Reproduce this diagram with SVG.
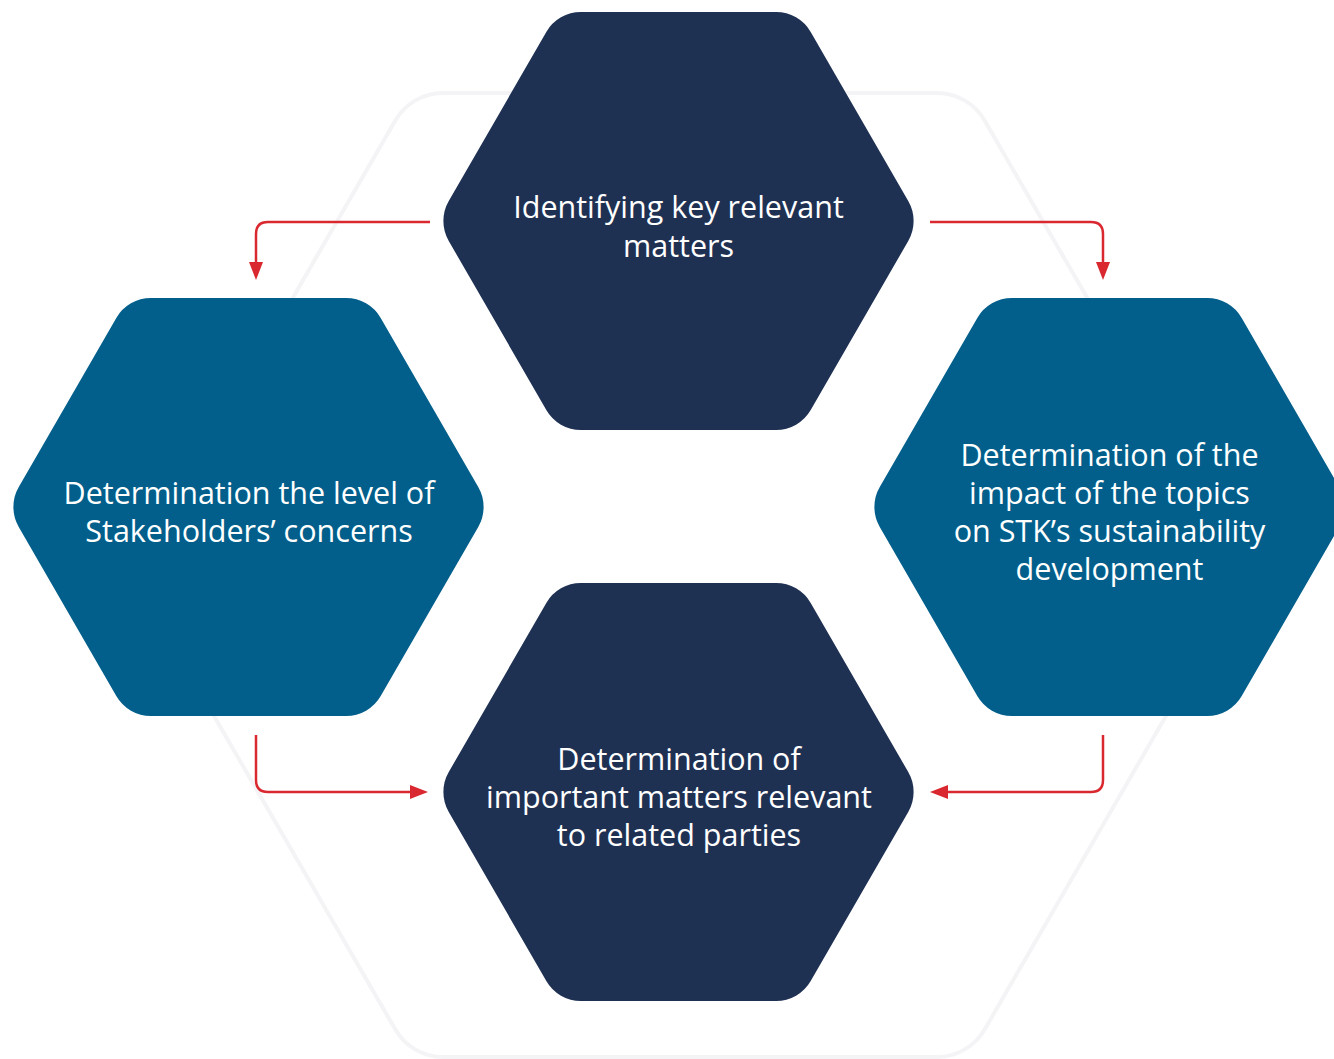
<svg xmlns="http://www.w3.org/2000/svg" width="1334" height="1059" viewBox="0 0 1334 1059">
<style>
.lbl{font-family:"Open Sans","Noto Sans","Liberation Sans",sans-serif;font-size:30.5px;fill:#ffffff;text-anchor:middle}
.navy{fill:#1f3153}
.blue{fill:#025f8c}
.conn{fill:none;stroke:#d9282f;stroke-width:2.5}
</style>
<defs>
<path id="hex" d="M -229.75,-20 L -132.2,-189 A 40 40 0 0 1 -97.55,-209 L 97.55,-209 A 40 40 0 0 1 132.2,-189 L 229.75,-20 A 40 40 0 0 1 229.75,20 L 132.2,189 A 40 40 0 0 1 97.55,209 L -97.55,209 A 40 40 0 0 1 -132.2,189 L -229.75,20 A 40 40 0 0 1 -229.75,-20 Z"/>
<marker id="ah" markerUnits="userSpaceOnUse" markerWidth="18" markerHeight="14" refX="2" refY="7" orient="auto">
<path d="M0,0 L18,7 L0,14 Z" fill="#d9282f"/>
</marker>
</defs>
<rect width="1334" height="1059" fill="#ffffff"/>
<path id="bghex" d="M148.4,547.5 L395.35,120.5 A55 55 0 0 1 443,93 L937,93 A55 55 0 0 1 984.65,120.5 L1231.6,547.5 A55 55 0 0 1 1231.6,602.5 L984.65,1029.5 A55 55 0 0 1 937,1057 L443,1057 A55 55 0 0 1 395.35,1029.5 L148.4,602.5 A55 55 0 0 1 148.4,547.5 Z" fill="none" stroke="#f4f4f7" stroke-width="4"/>
<g id="connectors">
<path class="conn" d="M430,222 H268 Q256,222 256,234 V264" marker-end="url(#ah)"/>
<path class="conn" d="M930,222 H1091 Q1103,222 1103,234 V264" marker-end="url(#ah)"/>
<path class="conn" d="M256,735 V780 Q256,792 268,792 H412" marker-end="url(#ah)"/>
<path class="conn" d="M1103,735 V780 Q1103,792 1091,792 H946" marker-end="url(#ah)"/>
</g>
<g id="node-top">
<use href="#hex" class="navy" transform="translate(678.5,221)"/>
<text class="lbl" x="678.5" y="218">Identifying key relevant</text>
<text class="lbl" x="678.5" y="257">matters</text>
</g>
<g id="node-left">
<use href="#hex" class="blue" transform="translate(248.5,507)"/>
<text class="lbl" x="249" y="504">Determination the level of</text>
<text class="lbl" x="249" y="542">Stakeholders’ concerns</text>
</g>
<g id="node-right">
<use href="#hex" class="blue" transform="translate(1109.5,507)"/>
<text class="lbl" x="1109.5" y="466">Determination of the</text>
<text class="lbl" x="1109.5" y="504">impact of the topics</text>
<text class="lbl" x="1109.5" y="542">on STK’s sustainability</text>
<text class="lbl" x="1109.5" y="580">development</text>
</g>
<g id="node-bottom">
<use href="#hex" class="navy" transform="translate(678.5,792)"/>
<text class="lbl" x="679" y="770">Determination of</text>
<text class="lbl" x="679" y="808">important matters relevant</text>
<text class="lbl" x="679" y="846">to related parties</text>
</g>
</svg>
